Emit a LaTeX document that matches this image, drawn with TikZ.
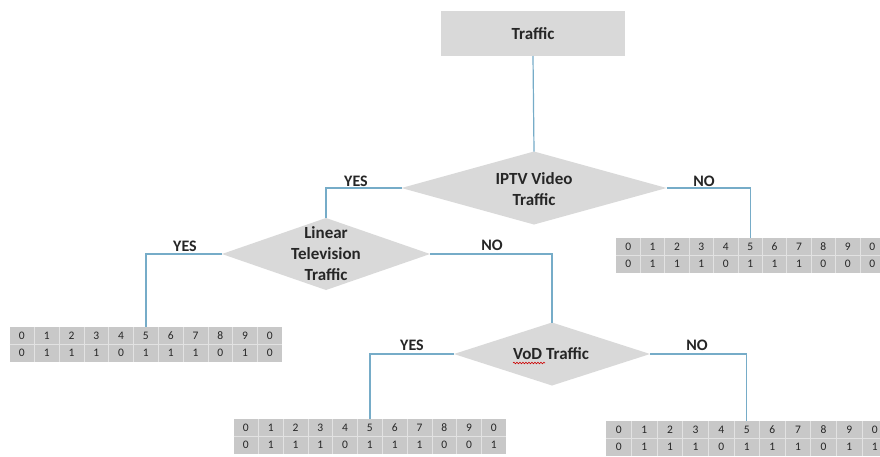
\documentclass[tikz,border=0pt]{standalone}
\usepackage{fontspec}
\setmainfont{Carlito}
\usetikzlibrary{shapes.geometric,decorations.pathmorphing}
\definecolor{boxgray}{RGB}{217,217,217}
\definecolor{tabgray}{RGB}{200,200,200}
\definecolor{tabline}{RGB}{226,226,226}
\definecolor{linkblue}{RGB}{118,172,200}
\definecolor{txt}{RGB}{38,38,38}
\tikzset{
  startbox/.style={rectangle,fill=boxgray,inner sep=0pt,outer sep=0pt,minimum width=184pt,minimum height=45pt,text=txt,font=\fontsize{17}{20}\selectfont\bfseries},
  decision/.style={diamond,fill=boxgray,inner sep=0pt,outer sep=0pt},
  dtext/.style={align=center,text=txt,font=\fontsize{17}{21}\selectfont\bfseries,inner sep=0pt},
  lbl/.style={text=txt,font=\fontsize{16}{18}\selectfont\bfseries,inner sep=0pt},
  link/.style={draw=linkblue,line width=1.2pt},
  tablebox/.style={rectangle,fill=tabgray,inner sep=0pt,outer sep=0pt,minimum height=35pt},
  cellline/.style={draw=tabline,line width=0.8pt},
  digit/.style={text=txt,font=\fontsize{11.5}{12}\selectfont,inner sep=0pt},
}
\newcommand\bittable[5]{%
  \node[tablebox,minimum width={11*#4pt}] (#1) at ({#2+5.5*#4},{#3+17.5}) {};
  \foreach \k in {1,...,10} {\draw[cellline] ({#2+\k*#4},#3) -- ++(0,35);}
  \draw[cellline] (#2,{#3+17.5}) -- ++({11*#4},0);
  \foreach \d [count=\i from 0] in {0,1,2,3,4,5,6,7,8,9,0} {\node[digit] at ({#2+(\i+0.5)*#4},{#3+8.75}) {\d};}
  \foreach \d [count=\i from 0] in {#5} {\node[digit] at ({#2+(\i+0.5)*#4},{#3+26.25}) {\d};}
}
\begin{document}
\begin{tikzpicture}[x=1pt,y=-1pt]
\useasboundingbox[fill=white] (0,0) rectangle (880,456);
\begin{scope}
\clip (0,0) rectangle (880,456);
% start
\node[startbox] (traffic) at (533,33.5) {Traffic};
% decisions
\node[decision,minimum width=265pt,minimum height=73pt] (iptv) at (534,188) {};
\node[dtext] (iptvt) at (534,189) {IPTV Video\\Traffic};
\node[decision,minimum width=208pt,minimum height=72pt] (linear) at (326,254) {};
\node[dtext] (lineart) at (326,254) {Linear\\Television\\Traffic};
\node[decision,minimum width=196pt,minimum height=63pt] (vod) at (552,354) {};
\node[dtext] (vodt) at (551,354) {VoD Traffic};
\draw[red!80!black,line width=0.6pt,decoration={snake,segment length=3pt,amplitude=0.8pt},decorate] (513,363) -- (545,363);
% tables
\bittable{tabA}{616}{238}{24.4}{0,1,1,1,0,1,1,1,0,0,0}
\bittable{tabB}{9.5}{327}{24.8}{0,1,1,1,0,1,1,1,0,1,0}
\bittable{tabC}{233.5}{419}{24.8}{0,1,1,1,0,1,1,1,0,0,1}
\bittable{tabD}{606}{421}{25.6}{0,1,1,1,0,1,1,1,0,1,1}
% connectors
\draw[link] (traffic.south) -- (iptv.north);
\draw[link] (iptv.west) -| (linear.north);
\draw[link] (iptv.east) -| (tabA.north);
\draw[link] (linear.west) -| (tabB.north);
\draw[link] (linear.east) -| (vod.north);
\draw[link] (vod.west) -| (tabC.north);
\draw[link] (vod.east) -| (tabD.north);
% labels
\node[lbl] (l1) at (356,181) {YES};
\node[lbl] (l2) at (704,181) {NO};
\node[lbl] (l3) at (185,246) {YES};
\node[lbl] (l4) at (492,245) {NO};
\node[lbl] (l5) at (412,345) {YES};
\node[lbl] (l6) at (697,345) {NO};
\end{scope}
\end{tikzpicture}
\end{document}
